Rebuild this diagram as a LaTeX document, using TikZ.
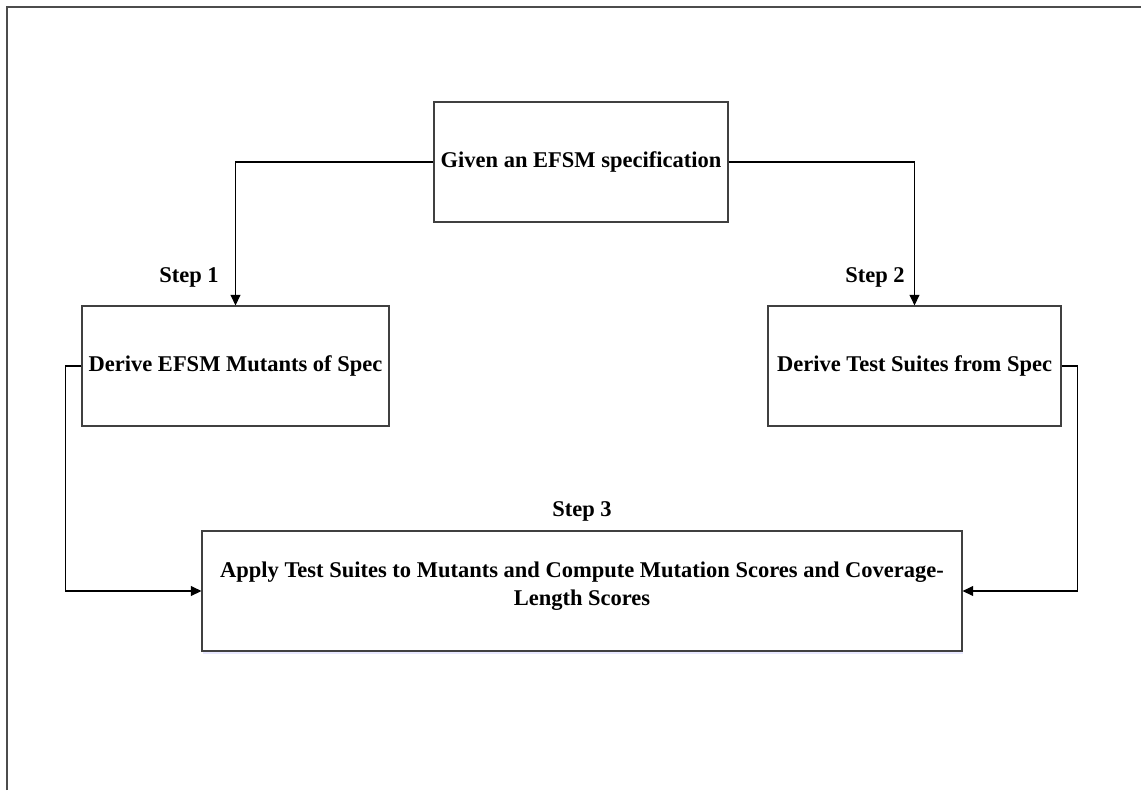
\documentclass[tikz,border=0pt]{standalone}
\usepackage{fontspec}
\setmainfont{Liberation Serif}
\usetikzlibrary{arrows.meta,shadows}

\tikzset{
	stagebox/.style={draw=black!75,line width=0.8pt,fill=white,align=center,
		font=\fontsize{16}{20}\selectfont\bfseries},
	flow/.style={line width=0.8pt,-{Triangle[length=7.5pt,width=7pt]}},
	steplabel/.style={font=\fontsize{16}{18}\selectfont\bfseries}
}

\begin{document}
\begin{tikzpicture}[x=0.025cm,y=-0.025cm]
			\useasboundingbox (0,0) rectangle (1141,790);
			\draw[black!70,line width=0.8pt] (7,790) -- (7,7) -- (1141,7);
			\node[stagebox,minimum width=294*0.025cm,minimum height=120*0.025cm] (spec) at (581,162) {Given an EFSM specification};
			\node[stagebox,minimum width=307*0.025cm,minimum height=120*0.025cm] (mutants) at (235.5,366) {Derive EFSM Mutants of Spec};
			\node[stagebox,minimum width=293*0.025cm,minimum height=120*0.025cm] (suites) at (914.5,366) {Derive Test Suites from Spec};
			\node[stagebox,minimum width=760*0.025cm,minimum height=120*0.025cm,text depth=11pt,
				drop shadow={shadow xshift=0.8pt,shadow yshift=-2pt,fill=blue!18}] (apply) at (582,591)
				{Apply Test Suites to Mutants and Compute Mutation Scores and Coverage-\\Length Scores};
			\draw[flow] (spec.west) -| (mutants.north);
			\draw[flow] (spec.east) -| (suites.north);
			\draw[flow] (mutants.west) -- ++(-16,0) |- (apply.west);
			\draw[flow] (suites.east) -- ++(16,0) |- (apply.east);
			\node[steplabel] (step1) at (189,277) {Step 1};
			\node[steplabel] (step2) at (875,277) {Step 2};
			\node[steplabel] (step3) at (582,511) {Step 3};
		\end{tikzpicture}
\end{document}
